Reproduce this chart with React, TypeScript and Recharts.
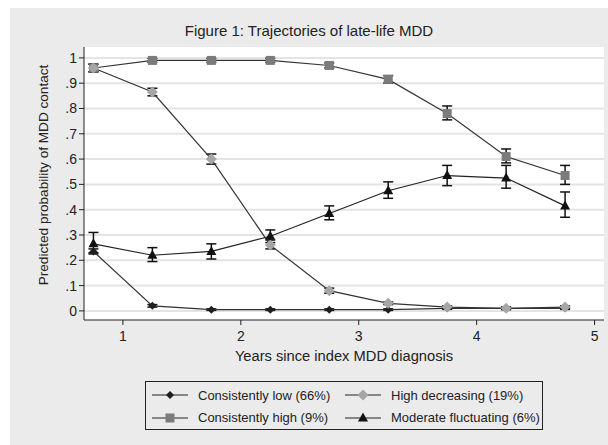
import { LineChart, Line, XAxis, YAxis, CartesianGrid, ErrorBar, Label } from 'recharts';

const years = [0.75, 1.25, 1.75, 2.25, 2.75, 3.25, 3.75, 4.25, 4.75];

const lowVals = [0.235, 0.02, 0.005, 0.005, 0.005, 0.005, 0.01, 0.01, 0.01];
const lowLo = [0.225, 0.015, 0.002, 0.002, 0.002, 0.002, 0.006, 0.006, 0.006];
const lowHi = [0.245, 0.025, 0.008, 0.008, 0.008, 0.008, 0.014, 0.014, 0.014];

const highVals = [0.96, 0.99, 0.99, 0.99, 0.97, 0.915, 0.78, 0.61, 0.535];
const highLo = [0.945, 0.982, 0.982, 0.982, 0.96, 0.9, 0.755, 0.585, 0.5];
const highHi = [0.975, 0.998, 0.998, 0.998, 0.98, 0.93, 0.81, 0.64, 0.575];

const decVals = [0.96, 0.865, 0.6, 0.26, 0.08, 0.03, 0.015, 0.01, 0.015];
const decLo = [0.945, 0.85, 0.58, 0.245, 0.07, 0.025, 0.01, 0.005, 0.01];
const decHi = [0.975, 0.88, 0.62, 0.28, 0.09, 0.035, 0.02, 0.015, 0.02];

const modVals = [0.265, 0.22, 0.235, 0.295, 0.385, 0.475, 0.535, 0.525, 0.415];
const modLo = [0.23, 0.195, 0.205, 0.27, 0.36, 0.445, 0.495, 0.485, 0.37];
const modHi = [0.31, 0.25, 0.265, 0.32, 0.415, 0.51, 0.575, 0.575, 0.47];

const yTicks = [0, 0.1, 0.2, 0.3, 0.4, 0.5, 0.6, 0.7, 0.8, 0.9, 1];
const xTicks = [1, 2, 3, 4, 5];

const data = years.map((x, i) => ({
  x,
  low: lowVals[i],
  lowErr: [lowVals[i] - lowLo[i], lowHi[i] - lowVals[i]],
  high: highVals[i],
  highErr: [highVals[i] - highLo[i], highHi[i] - highVals[i]],
  dec: decVals[i],
  decErr: [decVals[i] - decLo[i], decHi[i] - decVals[i]],
  mod: modVals[i],
  modErr: [modVals[i] - modLo[i], modHi[i] - modVals[i]],
}));

const font = '"Liberation Sans", Arial, sans-serif';

const Marker = ({ kind, cx, cy }: { kind: string; cx: number; cy: number }) => {
  if (kind === 'low') {
    const r = 4;
    return <path d={`M${cx},${cy - r}L${cx + r},${cy}L${cx},${cy + r}L${cx - r},${cy}Z`} fill="#1e1e1e" />;
  }
  if (kind === 'dec') {
    const r = 5.5;
    return <path d={`M${cx},${cy - r}L${cx + r},${cy}L${cx},${cy + r}L${cx - r},${cy}Z`} fill="#a6a6a6" />;
  }
  if (kind === 'high') {
    return <rect x={cx - 4.5} y={cy - 4.5} width={9} height={9} fill="#7b7b7b" />;
  }
  return <path d={`M${cx},${cy - 5.5}L${cx + 5},${cy + 3.5}L${cx - 5},${cy + 3.5}Z`} fill="#111" />;
};

const dotFor = (kind: string) => (props: any) => (
  <Marker key={`${kind}-${props.index}`} kind={kind} cx={props.cx} cy={props.cy} />
);

const legendItems = [
  { kind: 'low', label: 'Consistently low (66%)' },
  { kind: 'dec', label: 'High decreasing (19%)' },
  { kind: 'high', label: 'Consistently high (9%)' },
  { kind: 'mod', label: 'Moderate fluctuating (6%)' },
];

const LegendBox = () => (
  <div
    style={{
      border: '1.5px solid #222',
      width: 398,
      height: 49,
      boxSizing: 'border-box',
      display: 'grid',
      gridTemplateColumns: '193px 200px',
      padding: '2px 0 0 6px',
      fontFamily: font,
      fontSize: 13,
      color: '#222',
    }}
  >
    {legendItems.map(it => (
      <div key={it.kind} style={{ display: 'flex', alignItems: 'center', height: 22 }}>
        <svg width={36} height={14} style={{ marginRight: 10 }}>
          <line x1={0} y1={7} x2={36} y2={7} stroke="#222" strokeWidth={1.2} />
          <Marker kind={it.kind} cx={18} cy={7} />
        </svg>
        <span>{it.label}</span>
      </div>
    ))}
  </div>
);

const yFmt = (v: number) => {
  if (v === 0) return '0';
  if (v === 1) return '1';
  return '.' + Math.round(v * 10);
};

const YTitle = () => (
  <text
    x={48}
    y={175}
    transform="rotate(-90 48 175)"
    textAnchor="middle"
    fontSize={13.6}
    fontFamily={font}
    fill="#222"
  >
    Predicted probability of MDD contact
  </text>
);

export default function App() {
  return (
    <div style={{ position: 'absolute', left: 0, top: 0, width: 608, height: 445, background: '#fff' }}>
      <div style={{ position: 'absolute', left: 10, top: 8, width: 598, height: 437, background: '#ebebeb' }} />
      <div
        style={{
          position: 'absolute',
          left: 10,
          width: 598,
          top: 22,
          textAlign: 'center',
          fontFamily: font,
          fontSize: 15,
          color: '#222',
        }}
      >
        Figure 1: Trajectories of late-life MDD
      </div>
      <div style={{ position: 'absolute', left: 0, top: 0 }}>
        <LineChart width={608} height={445} data={data} margin={{ top: 47, right: 4, left: 0, bottom: 0 }}>
          <CartesianGrid vertical={false} fill="#fff" stroke="#e4e4e4" strokeWidth={2} horizontalValues={yTicks} />
          <XAxis
            dataKey="x"
            type="number"
            domain={[0.67, 5.08]}
            ticks={xTicks}
            allowDataOverflow
            height={125}
            stroke="#222"
            tickSize={5}
            tick={{ fontSize: 14, fill: '#222', fontFamily: font }}
            tickMargin={6}
          >
            <Label value="Years since index MDD diagnosis" position="insideTop" offset={31} style={{ fontSize: 14.7, fill: '#222', fontFamily: font }} />
          </XAxis>
          <YAxis
            type="number"
            domain={[-0.036, 1.043]}
            ticks={yTicks}
            interval={0}
            allowDataOverflow
            width={84}
            stroke="#222"
            tickSize={5}
            tickFormatter={yFmt}
            tick={{ fontSize: 14, fill: '#222', fontFamily: font }}
          >
            <Label content={() => <YTitle />} />
          </YAxis>
          <Line dataKey="low" type="linear" stroke="#333" strokeWidth={1.2} dot={dotFor('low')} isAnimationActive={false}>
            <ErrorBar dataKey="lowErr" direction="y" width={5} stroke="#111" strokeWidth={1.5} />
          </Line>
          <Line dataKey="high" type="linear" stroke="#333" strokeWidth={1.2} dot={dotFor('high')} isAnimationActive={false}>
            <ErrorBar dataKey="highErr" direction="y" width={5} stroke="#111" strokeWidth={1.5} />
          </Line>
          <Line dataKey="dec" type="linear" stroke="#333" strokeWidth={1.2} dot={dotFor('dec')} isAnimationActive={false}>
            <ErrorBar dataKey="decErr" direction="y" width={5} stroke="#111" strokeWidth={1.5} />
          </Line>
          <Line dataKey="mod" type="linear" stroke="#222" strokeWidth={1.2} dot={dotFor('mod')} isAnimationActive={false}>
            <ErrorBar dataKey="modErr" direction="y" width={5} stroke="#111" strokeWidth={1.5} />
          </Line>
        </LineChart>
      </div>
      <div style={{ position: 'absolute', left: 145, top: 381 }}>
        <LegendBox />
      </div>
    </div>
  );
}
